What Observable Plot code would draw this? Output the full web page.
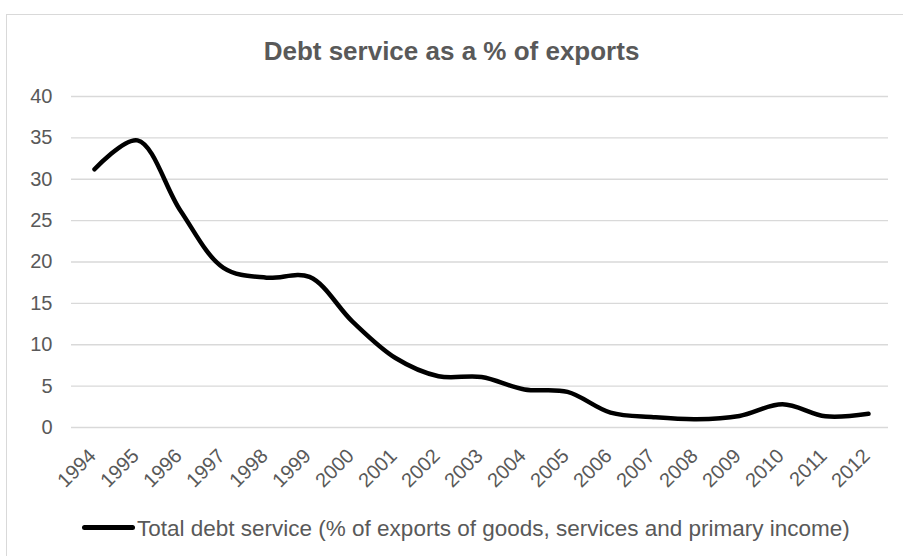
<!DOCTYPE html>
<html>
<head>
<meta charset="utf-8">
<script src="https://cdn.jsdelivr.net/npm/d3@7"></script>
<script src="https://cdn.jsdelivr.net/npm/@observablehq/plot@0.6"></script>
<style>
  html, body { margin: 0; padding: 0; background: #fff; }
  body { width: 903px; height: 556px; overflow: hidden; position: relative; font-family: "Liberation Sans", Arial, sans-serif; }
  #frame { position: absolute; left: 6px; top: 14px; width: 920px; height: 580px; border: 1px solid #d9d9d9; box-sizing: border-box; }
  #title { position: absolute; left: 0; width: 903px; top: 38px; text-align: center; font-size: 26px; line-height: 26px; font-weight: bold; color: #595959; }
  #chart { position: absolute; left: 0; top: 70px; }
  #legend { position: absolute; left: 82px; top: 518px; font-size: 22.5px; line-height: 22px; color: #595959; white-space: nowrap; }
  #legend .swatch { display: inline-block; width: 53px; height: 5px; border-radius: 2.5px; background: #000; vertical-align: middle; position: relative; top: -3px; margin-right: 2px; }
</style>
</head>
<body>
<div id="frame"></div>
<div id="title">Debt service as a % of exports</div>
<div id="chart"></div>
<div id="legend"></div>
<script>
const years = ["1994","1995","1996","1997","1998","1999","2000","2001","2002","2003","2004","2005","2006","2007","2008","2009","2010","2011","2012"];
const debtService = [31.2, 34.7, 26.2, 19.3, 18.1, 18.2, 12.8, 8.4, 6.2, 6.1, 4.6, 4.3, 1.8, 1.25, 1.0, 1.4, 2.8, 1.35, 1.65];
const yTicks = [0, 5, 10, 15, 20, 25, 30, 35, 40];
const seriesName = "Total debt service (% of exports of goods, services and primary income)";

const data = years.map((year, i) => ({year, value: debtService[i]}));

const chart = Plot.plot({
  width: 903,
  height: 440,
  marginTop: 26,
  marginBottom: 83,
  marginLeft: 71,
  marginRight: 12,
  style: {fontFamily: "'Liberation Sans', Arial, sans-serif", background: "transparent", overflow: "visible"},
  x: {type: "point", domain: years, padding: 0.5},
  y: {domain: [0, 40]},
  marks: [
    Plot.ruleY(yTicks, {stroke: "#d9d9d9", strokeWidth: 1.3, strokeOpacity: 1, insetRight: 3}),
    Plot.axisY({ticks: yTicks, tickSize: 0, tickPadding: 19, fontSize: 20, fill: "#595959", label: null}),
    Plot.axisX({tickRotate: -45, tickSize: 0, tickPadding: 25, dx: -2, fontSize: 20, fill: "#595959", label: null}),
    Plot.line(data, {x: "year", y: "value", curve: "catmull-rom", stroke: "#000", strokeWidth: 4.5, strokeLinecap: "round", strokeLinejoin: "round"})
  ]
});
document.getElementById("chart").appendChild(chart);

const legend = document.getElementById("legend");
const sw = document.createElement("span");
sw.className = "swatch";
legend.appendChild(sw);
legend.appendChild(document.createTextNode(seriesName));
</script>
</body>
</html>
